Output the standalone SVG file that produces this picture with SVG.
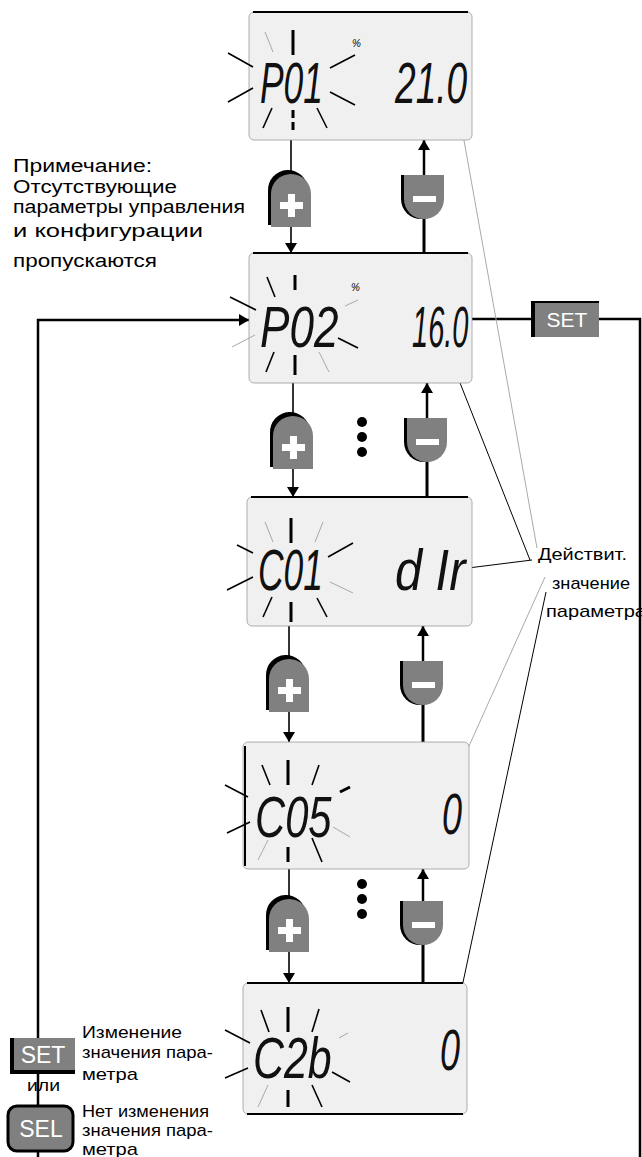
<svg xmlns="http://www.w3.org/2000/svg" width="642" height="1157" viewBox="0 0 642 1157">
<defs>
<style>
.disp{fill:#f0f0f0;stroke:#9a9a9a;stroke-width:0.8}
.edge{stroke:#000;stroke-width:2;fill:none}
.lcd{font-family:"Liberation Sans",Arial,sans-serif;font-style:italic;font-size:58px;fill:#111}
.pct{font-family:"Liberation Sans",Arial,sans-serif;font-style:italic;font-size:10px;fill:#000}
.rb{stroke:#000;stroke-width:1.6;fill:none}
.rt{stroke:#000;stroke-width:3;fill:none}
.rg{stroke:#a8a8a8;stroke-width:1;fill:none}
.ln{stroke:#000;stroke-width:1.6;fill:none}
.lnt{stroke:#000;stroke-width:3;fill:none}
.lp{stroke:#000;stroke-width:2.5;fill:none}
.thin{stroke:#000;stroke-width:1;fill:none}
.thg{stroke:#aaa;stroke-width:1;fill:none}
.txt{font-family:"Liberation Sans",Arial,sans-serif;fill:#000}
.btxt{font-family:"Liberation Sans",Arial,sans-serif;fill:#fff}
</style>
<marker id="ah" viewBox="0 0 10 12" refX="10" refY="6" markerWidth="10" markerHeight="12" markerUnits="userSpaceOnUse" orient="auto">
<path d="M0,0 L10,6 L0,12 Z" fill="#000"/>
</marker>
<g id="plusBtn">
<path d="M-3,54 V20 A20,20 0 0 1 37,18 L37,54 Z" fill="#000" transform="translate(0,-2)"/>
<path d="M0,54 V21 A20,20 0 0 1 40,21 V54 Z" fill="#808080"/>
<rect x="9" y="29" width="23" height="7" fill="#fff"/>
<rect x="17" y="21" width="7" height="23" fill="#fff"/>
</g>
<g id="minusBtn">
<path d="M-3,0 H37 V24 A20,20 0 0 1 -3,24 Z" fill="#000"/>
<path d="M0,0 H40 V24 A20,20 0 0 1 0,24 Z" fill="#808080"/>
<rect x="9" y="21" width="23" height="6" fill="#fff"/>
</g>
</defs>

<g id="connectors">
<line class="ln" x1="291" y1="140" x2="291" y2="173"/>
<line class="ln" x1="291" y1="227" x2="291" y2="253" marker-end="url(#ah)"/>
<line class="lnt" x1="424" y1="253" x2="424" y2="218"/>
<line class="lp" x1="424" y1="175" x2="424" y2="140" marker-end="url(#ah)"/>
<line class="ln" x1="293" y1="383" x2="293" y2="415"/>
<line class="ln" x1="293" y1="469" x2="293" y2="497" marker-end="url(#ah)"/>
<line class="lnt" x1="427" y1="497" x2="427" y2="461"/>
<line class="lp" x1="427" y1="418" x2="427" y2="383" marker-end="url(#ah)"/>
<line class="ln" x1="289" y1="626" x2="289" y2="658"/>
<line class="ln" x1="289" y1="712" x2="289" y2="742" marker-end="url(#ah)"/>
<line class="lnt" x1="423" y1="742" x2="423" y2="704"/>
<line class="lp" x1="423" y1="661" x2="423" y2="626" marker-end="url(#ah)"/>
<line class="ln" x1="289" y1="869" x2="289" y2="898"/>
<line class="ln" x1="289" y1="952" x2="289" y2="983" marker-end="url(#ah)"/>
<line class="lnt" x1="423" y1="983" x2="423" y2="944"/>
<line class="lp" x1="423" y1="901" x2="423" y2="869" marker-end="url(#ah)"/>
<polyline class="lp" points="38,1157 38,320 249,320" marker-end="url(#ah)"/>
<polyline class="lp" points="472,319 531,319"/>
<polyline class="lp" points="599,319 640,319 640,1157"/>
<line class="thg" x1="460" y1="118" x2="537" y2="548"/>
<line class="thin" x1="449" y1="355" x2="530" y2="560"/>
<line class="thin" x1="468" y1="568" x2="532" y2="560"/>
<line class="thg" x1="456" y1="775" x2="545" y2="577"/>
<line class="thin" x1="455" y1="1020" x2="546" y2="592"/>
</g>

<g id="display-P01">
<rect class="disp" x="249" y="12" width="223" height="128" rx="5"/>
<line class="edge" x1="253" y1="12" x2="468" y2="12"/>
<text class="lcd" transform="translate(260,103) scale(0.61,1)">P01</text>
<text class="lcd" transform="translate(395,103) scale(0.64,1)">21.0</text>
<text class="pct" x="352" y="47">%</text>
<line class="rg" x1="265" y1="32" x2="273" y2="52"/>
<line class="rt" x1="293" y1="30" x2="293" y2="55"/>
<line class="rb" x1="228" y1="53" x2="253" y2="67"/>
<line class="rb" x1="228" y1="102" x2="253" y2="88"/>
<line class="rb" x1="330" y1="68" x2="355" y2="55"/>
<line class="rb" x1="330" y1="92" x2="355" y2="105"/>
<line class="rb" x1="272" y1="108" x2="263" y2="128"/>
<line class="rt" x1="293" y1="110" x2="293" y2="130" stroke-dasharray="8,4"/>
<line class="rb" x1="317" y1="108" x2="327" y2="128"/>
</g>

<g id="display-P02">
<rect class="disp" x="249" y="253" width="223" height="130" rx="5"/>
<line class="edge" x1="253" y1="253" x2="468" y2="253"/>
<text class="lcd" transform="translate(260,347) scale(0.76,1)">P02</text>
<text class="lcd" transform="translate(412,347) scale(0.5,1)">16.0</text>
<text class="pct" x="351" y="291">%</text>
<line class="rb" x1="267" y1="277" x2="275" y2="297"/>
<line class="rt" x1="295" y1="275" x2="295" y2="290"/>
<line class="rb" x1="230" y1="297" x2="256" y2="310"/>
<line class="rg" x1="232" y1="347" x2="255" y2="335"/>
<line class="rg" x1="345" y1="306" x2="358" y2="300"/>
<line class="rb" x1="338" y1="338" x2="358" y2="348"/>
<line class="rb" x1="274" y1="352" x2="266" y2="372"/>
<line class="rt" x1="295" y1="355" x2="295" y2="375"/>
<line class="rg" x1="319" y1="352" x2="329" y2="372"/>
</g>

<g id="display-C01">
<rect class="disp" x="247" y="497" width="225" height="129" rx="5"/>
<line class="edge" x1="251" y1="497" x2="468" y2="497"/>
<text class="lcd" transform="translate(258,590) scale(0.61,1)">C01</text>
<text class="lcd" transform="translate(395,590) scale(0.84,1)">d Ir</text>
<line class="rg" x1="265" y1="522" x2="273" y2="542"/>
<line class="rt" x1="291" y1="518" x2="291" y2="543"/>
<line class="rg" x1="323" y1="522" x2="315" y2="542"/>
<line class="rb" x1="237" y1="545" x2="253" y2="553"/>
<line class="rb" x1="328" y1="557" x2="353" y2="543"/>
<line class="rb" x1="227" y1="590" x2="253" y2="577"/>
<line class="rg" x1="330" y1="582" x2="353" y2="593"/>
<line class="rb" x1="272" y1="597" x2="263" y2="617"/>
<line class="rt" x1="291" y1="602" x2="291" y2="622"/>
<line class="rb" x1="317" y1="598" x2="327" y2="617"/>
</g>

<g id="display-C05">
<rect class="disp" x="243" y="742" width="226" height="127" rx="5"/>
<line class="edge" x1="245" y1="746" x2="245" y2="866"/>
<text class="lcd" transform="translate(255,837) scale(0.72,1)">C05</text>
<text class="lcd" transform="translate(442,834) scale(0.62,1)">0</text>
<line class="rb" x1="262" y1="765" x2="270" y2="785"/>
<line class="rt" x1="288" y1="760" x2="288" y2="785"/>
<line class="rb" x1="319" y1="765" x2="312" y2="785"/>
<line class="rb" x1="225" y1="785" x2="248" y2="797"/>
<line class="rt" x1="340" y1="792" x2="350" y2="787"/>
<line class="rb" x1="227" y1="833" x2="250" y2="822"/>
<line class="rg" x1="333" y1="827" x2="350" y2="837"/>
<line class="rg" x1="268" y1="840" x2="258" y2="860"/>
<line class="rt" x1="288" y1="847" x2="288" y2="862"/>
<line class="rb" x1="312" y1="838" x2="322" y2="862"/>
</g>

<g id="display-C2b">
<rect class="disp" x="243" y="983" width="224" height="131" rx="5"/>
<line class="edge" x1="247" y1="983" x2="463" y2="983"/>
<line class="edge" x1="247" y1="1114" x2="463" y2="1114"/>
<text class="lcd" transform="translate(253,1078) scale(0.74,1)">C2b</text>
<text class="lcd" transform="translate(440,1070) scale(0.62,1)">0</text>
<line class="rb" x1="261" y1="1010" x2="269" y2="1032"/>
<line class="rt" x1="288" y1="1007" x2="288" y2="1032"/>
<line class="rb" x1="319" y1="1009" x2="312" y2="1032"/>
<line class="rb" x1="225" y1="1030" x2="250" y2="1043"/>
<line class="rg" x1="339" y1="1038" x2="348" y2="1033"/>
<line class="rb" x1="225" y1="1078" x2="248" y2="1068"/>
<line class="rb" x1="332" y1="1072" x2="350" y2="1082"/>
<line class="rg" x1="268" y1="1085" x2="258" y2="1107"/>
<line class="rt" x1="288" y1="1090" x2="288" y2="1107"/>
<line class="rb" x1="312" y1="1085" x2="322" y2="1107"/>
</g>

<g id="btn-plus-1"><use href="#plusBtn" x="271" y="173"/></g>
<g id="btn-minus-1"><use href="#minusBtn" x="404" y="175"/></g>
<g id="btn-plus-2"><use href="#plusBtn" x="273" y="415"/></g>
<g id="btn-minus-2"><use href="#minusBtn" x="407" y="418"/></g>
<g id="btn-plus-3"><use href="#plusBtn" x="269" y="658"/></g>
<g id="btn-minus-3"><use href="#minusBtn" x="403" y="661"/></g>
<g id="btn-plus-4"><use href="#plusBtn" x="269" y="898"/></g>
<g id="btn-minus-4"><use href="#minusBtn" x="403" y="901"/></g>

<g id="dots-1">
<circle cx="362" cy="422" r="5"/><circle cx="362" cy="437" r="5"/><circle cx="362" cy="452" r="5"/>
</g>
<g id="dots-2">
<circle cx="362" cy="884" r="5"/><circle cx="362" cy="899" r="5"/><circle cx="362" cy="914" r="5"/>
</g>

<g id="note">
<text class="txt" font-size="18" x="13" y="172" textLength="139" lengthAdjust="spacingAndGlyphs">Примечание:</text>
<text class="txt" font-size="18" x="13" y="193" textLength="164" lengthAdjust="spacingAndGlyphs">Отсутствующие</text>
<text class="txt" font-size="18" x="13" y="213" textLength="232" lengthAdjust="spacingAndGlyphs">параметры управления</text>
<text class="txt" font-size="18" x="13" y="237" textLength="190" lengthAdjust="spacingAndGlyphs">и конфигурации</text>
<text class="txt" font-size="18" x="13" y="267" textLength="144" lengthAdjust="spacingAndGlyphs">пропускаются</text>
</g>

<g id="btn-set-top">
<rect x="531" y="301" width="68" height="36" fill="#000"/>
<rect x="535" y="303" width="64" height="34" fill="#808080"/>
<text class="btxt" font-size="21" x="567" y="327" text-anchor="middle">SET</text>
</g>

<g id="label-value">
<text class="txt" font-size="17" x="538" y="560" textLength="89" lengthAdjust="spacingAndGlyphs">Действит.</text>
<text class="txt" font-size="17" x="552" y="589" textLength="78" lengthAdjust="spacingAndGlyphs">значение</text>
<text class="txt" font-size="17" x="546" y="617" textLength="100" lengthAdjust="spacingAndGlyphs">параметра</text>
</g>

<g id="btn-set-bottom">
<rect x="10" y="1038" width="65" height="36" fill="#000"/>
<rect x="14" y="1038" width="61" height="32" fill="#808080"/>
<text class="btxt" font-size="23" x="43" y="1063" text-anchor="middle">SET</text>
</g>
<g id="btn-sel">
<rect x="8" y="1106" width="65" height="45" rx="9" fill="#808080" stroke="#000" stroke-width="3"/>
<text class="btxt" font-size="23" x="41" y="1137" text-anchor="middle">SEL</text>
</g>
<g id="legend">
<text class="txt" font-size="17" x="27" y="1091" textLength="33" lengthAdjust="spacingAndGlyphs">или</text>
<text class="txt" font-size="17" x="82" y="1038" textLength="100" lengthAdjust="spacingAndGlyphs">Изменение</text>
<text class="txt" font-size="17" x="82" y="1058" textLength="131" lengthAdjust="spacingAndGlyphs">значения пара-</text>
<text class="txt" font-size="17" x="82" y="1080" textLength="56" lengthAdjust="spacingAndGlyphs">метра</text>
<text class="txt" font-size="17" x="82" y="1117" textLength="127" lengthAdjust="spacingAndGlyphs">Нет изменения</text>
<text class="txt" font-size="17" x="82" y="1136" textLength="131" lengthAdjust="spacingAndGlyphs">значения пара-</text>
<text class="txt" font-size="17" x="82" y="1155" textLength="56" lengthAdjust="spacingAndGlyphs">метра</text>
</g>
</svg>
